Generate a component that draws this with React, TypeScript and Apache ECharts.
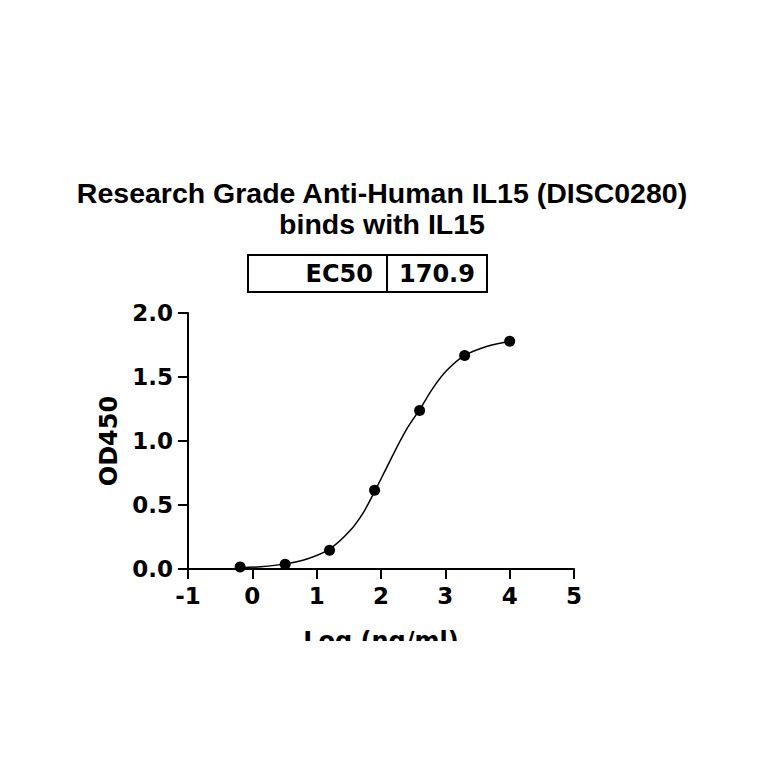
import React, { useEffect, useRef } from "react";
import * as echarts from "echarts";

const titleLines = ["Research Grade Anti-Human IL15 (DISC0280)", "binds with IL15"];
const ec50Label = "EC50";
const ec50Value = "170.9";
const xAxisName = "Log (ng/ml)";
const yAxisName = "OD450";

const logConc = [-0.19, 0.51, 1.2, 1.9, 2.6, 3.3, 4.0];
const od450 = [0.015, 0.037, 0.146, 0.616, 1.238, 1.668, 1.78];

const fitX = [-0.19, 0.13, 0.51, 0.85, 1.2, 1.52, 1.73, 1.9, 2.07, 2.24, 2.42, 2.6, 2.81, 3.02, 3.29, 3.64, 4.0];
const fitY = [0.01, 0.018, 0.04, 0.078, 0.155, 0.3, 0.445, 0.605, 0.775, 0.945, 1.11, 1.245, 1.415, 1.55, 1.665, 1.738, 1.78];

const TICK_FONT = "'DejaVu Sans', sans-serif";
const TITLE_FONT = "'Liberation Sans', Arial, sans-serif";

export default function App() {
  const ref = useRef<HTMLDivElement>(null);
  useEffect(() => {
    if (!ref.current) return;
    const chart = echarts.init(ref.current, undefined, { renderer: "svg" });
    const points = logConc.map((x, i) => [x, od450[i]]);
    const curve = fitX.map((x, i) => [x, fitY[i]]);
    chart.setOption({
      animation: false,
      backgroundColor: "#ffffff",
      title: {
        text: titleLines.join("\n"),
        left: "center",
        top: 172,
        textStyle: {
          fontFamily: TITLE_FONT,
          fontSize: 28.5,
          fontWeight: "bold",
          color: "#000",
          lineHeight: 31,
        },
      },
      grid: { left: 188, top: 313, width: 386, height: 256, containLabel: false },
      xAxis: {
        type: "value",
        min: -1,
        max: 5,
        interval: 1,
        name: xAxisName,
        nameLocation: "middle",
        nameGap: 60,
        nameTextStyle: { fontFamily: TICK_FONT, fontSize: 24, fontWeight: "bold", color: "#000" },
        axisLine: { onZero: false, lineStyle: { color: "#000", width: 2 } },
        axisTick: { show: true, inside: false, length: 10, lineStyle: { color: "#000", width: 2 } },
        axisLabel: { fontFamily: TICK_FONT, fontSize: 23, fontWeight: "bold", color: "#000", margin: 15 },
        splitLine: { show: false },
      },
      yAxis: {
        type: "value",
        min: 0,
        max: 2,
        interval: 0.5,
        name: yAxisName,
        nameLocation: "middle",
        nameGap: 66,
        nameTextStyle: { fontFamily: TICK_FONT, fontSize: 24, fontWeight: "bold", color: "#000" },
        axisLine: { show: true, onZero: false, lineStyle: { color: "#000", width: 2 } },
        axisTick: { show: true, inside: false, length: 10, lineStyle: { color: "#000", width: 2 } },
        axisLabel: {
          fontFamily: TICK_FONT,
          fontSize: 23,
          fontWeight: "bold",
          color: "#000",
          margin: 15,
          formatter: (v: number) => v.toFixed(1),
        },
        splitLine: { show: false },
      },
      series: [
        {
          type: "line",
          data: curve,
          smooth: 0.35,
          showSymbol: false,
          symbol: "none",
          lineStyle: { color: "#000", width: 1.5 },
          z: 2,
        },
        {
          type: "scatter",
          data: points,
          symbol: "circle",
          symbolSize: 11,
          itemStyle: { color: "#000", opacity: 1 },
          z: 3,
        },
      ],
      graphic: [
        {
          type: "rect",
          shape: { x: 248, y: 255, width: 239, height: 37 },
          style: { fill: "none", stroke: "#000", lineWidth: 2 },
        },
        {
          type: "line",
          shape: { x1: 387, y1: 255, x2: 387, y2: 292 },
          style: { stroke: "#000", lineWidth: 2 },
        },
        {
          type: "text",
          x: 373,
          y: 274,
          style: {
            text: ec50Label,
            align: "right",
            verticalAlign: "middle",
            fontFamily: TICK_FONT,
            fontSize: 24,
            fontWeight: "bold",
            fill: "#000",
          },
        },
        {
          type: "text",
          x: 399,
          y: 274,
          style: {
            text: ec50Value,
            align: "left",
            verticalAlign: "middle",
            fontFamily: TICK_FONT,
            fontSize: 24,
            fontWeight: "bold",
            fill: "#000",
          },
        },
        {
          type: "rect",
          shape: { x: 0, y: 641, width: 764, height: 123 },
          style: { fill: "#ffffff" },
          z: 100,
        },
      ],
    });
    return () => chart.dispose();
  }, []);
  return (
    <div
      ref={ref}
      style={{ position: "fixed", left: 0, top: 0, width: 764, height: 764, background: "#fff" }}
    />
  );
}
